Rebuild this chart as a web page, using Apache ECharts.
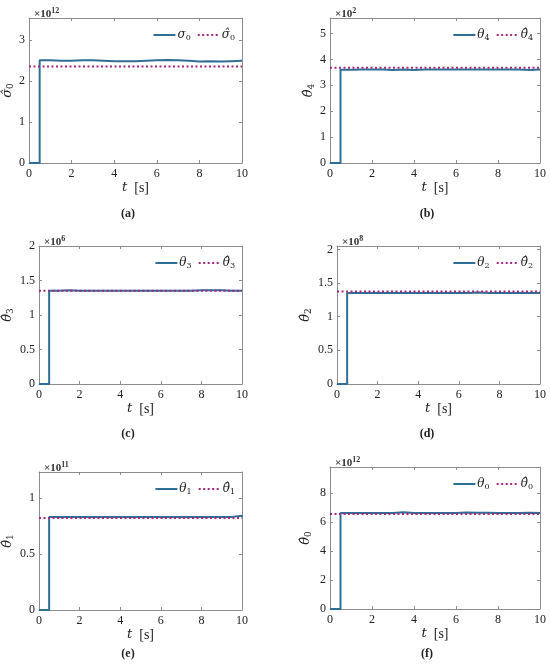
<!DOCTYPE html>
<html>
<head>
<meta charset="utf-8">
<script src="https://cdn.jsdelivr.net/npm/echarts@6/dist/echarts.min.js"></script>
<style>
  html, body { margin: 0; padding: 0; background: #fff; }
  #main { width: 550px; height: 665px; }
</style>
</head>
<body>
<div id="main"></div>
<script>
// time stamps of the piecewise-constant estimates (s)
var times = [0, 0.5, 1, 1.5, 2, 2.5, 3, 3.5, 4, 4.5, 5, 5.5, 6, 6.5, 7, 7.5, 8, 8.5, 9, 9.5, 10];
var refTimes = [0, 10];

// (a) sigma0, x1e12
var sigma0 = [0, 2.50, 2.49, 2.49, 2.50, 2.50, 2.49, 2.48, 2.48, 2.48, 2.49, 2.50, 2.51, 2.50, 2.49, 2.47, 2.48, 2.47, 2.48, 2.49, 2.48];
var sigma0Hat = [2.35, 2.35];
// (b) theta4, x1e2
var theta4 = [0, 3.60, 3.61, 3.61, 3.61, 3.59, 3.61, 3.59, 3.61, 3.61, 3.61, 3.61, 3.61, 3.61, 3.61, 3.61, 3.61, 3.61, 3.59, 3.61, 3.61];
var theta4Hat = [3.68, 3.68];
// (c) theta3, x1e6
var theta3 = [0, 1.35, 1.36, 1.35, 1.35, 1.35, 1.35, 1.35, 1.35, 1.35, 1.35, 1.35, 1.35, 1.35, 1.35, 1.36, 1.36, 1.36, 1.35, 1.35, 1.35];
var theta3Hat = [1.35, 1.35];
// (d) theta2, x1e8
var theta2 = [0, 1.35, 1.35, 1.35, 1.35, 1.35, 1.35, 1.35, 1.35, 1.35, 1.35, 1.35, 1.35, 1.36, 1.35, 1.35, 1.35, 1.35, 1.35, 1.35, 1.35];
var theta2Hat = [1.375, 1.375];
// (e) theta1, x1e11
var theta1 = [0, 0.83, 0.83, 0.83, 0.83, 0.83, 0.83, 0.83, 0.83, 0.83, 0.83, 0.83, 0.83, 0.83, 0.83, 0.83, 0.83, 0.83, 0.83, 0.84, 0.83];
var theta1Hat = [0.82, 0.82];
// (f) theta0, x1e12
var theta0 = [0, 6.62, 6.62, 6.62, 6.62, 6.62, 6.68, 6.62, 6.62, 6.62, 6.62, 6.62, 6.66, 6.64, 6.64, 6.62, 6.62, 6.62, 6.64, 6.62, 6.62];
var theta0Hat = [6.55, 6.55];

var blue = '#2f6e97';
var magenta = '#a8267f';
var axisGray = '#8c8c8c';
var serif = 'Liberation Serif';
var mathFont = 'DejaVu Serif';

function pairs(xs, ys) {
    var res = [];
    for (var i = 0; i < xs.length; i++) {
        res.push([xs[i], ys[i]]);
    }
    return res;
}

var panels = [
    {sym: 'σ', sub: '0', exp: '12', cap: '(a)', est: sigma0, ref: sigma0Hat, max: 3.53, interval: 1,
     box: [29, 18, 213, 145], ylab: 10, capY: 203},
    {sym: 'θ', sub: '4', exp: '2', cap: '(b)', est: theta4, ref: theta4Hat, max: 5.6, interval: 1,
     box: [330, 18, 210, 145], ylab: 313, capY: 203},
    {sym: 'θ', sub: '3', exp: '6', cap: '(c)', est: theta3, ref: theta3Hat, max: 2, interval: 0.5,
     box: [39, 246, 203, 138], ylab: 9, capY: 423},
    {sym: 'θ', sub: '2', exp: '8', cap: '(d)', est: theta2, ref: theta2Hat, max: 2.05, interval: 0.5,
     box: [337, 246, 203, 138], ylab: 307, capY: 423},
    {sym: 'θ', sub: '1', exp: '11', cap: '(e)', est: theta1, ref: theta1Hat, max: 1.23, interval: 0.5,
     box: [39, 472, 203, 138], ylab: 9, capY: 643},
    {sym: 'θ', sub: '0', exp: '12', cap: '(f)', est: theta0, ref: theta0Hat, max: 9.8, interval: 2,
     box: [330, 467, 210, 142], ylab: 307, capY: 643}
];

var mathRich = {
    m: {fontFamily: mathFont, fontStyle: 'italic', fontSize: 12, color: '#222'},
    s: {fontFamily: mathFont, fontSize: 8, color: '#222', padding: [6, 0, 0, 0]},
    a: {fontFamily: serif, fontSize: 11, color: '#333'},
    p: {fontFamily: serif, fontSize: 8, color: '#333', padding: [0, 0, 6, 0]},
    b: {fontFamily: serif, fontSize: 12, fontWeight: 'bold', color: '#222'}
};

function mathName(name) {
    var base = name.slice(0, -1), sub = name.slice(-1);
    return '{m|' + base + '}{s|' + sub + '}';
}

var grids = [], xAxes = [], yAxes = [], series = [], legends = [], titles = [];

panels.forEach(function (p, i) {
    var b = p.box;
    var trueName = p.sym + p.sub;
    var hatName = p.sym + '\u0302' + p.sub;
    grids.push({left: b[0], top: b[1], width: b[2], height: b[3], show: false});

    var tickStyle = {show: true, inside: true, length: 3, lineStyle: {color: axisGray, width: 1}};
    var lineStyle = {show: true, onZero: false, lineStyle: {color: axisGray, width: 1}};
    xAxes.push({
        type: 'value', gridIndex: i, min: 0, max: 10, interval: 2, position: 'bottom',
        axisLine: lineStyle,
        axisTick: tickStyle,
        splitLine: {show: false},
        axisLabel: {fontFamily: serif, fontSize: 12, color: '#222', margin: 5},
        name: '{m|t}{n|  [s]}', nameLocation: 'middle', nameGap: 17,
        nameTextStyle: {rich: {m: {fontFamily: mathFont, fontStyle: 'italic', fontSize: 13, color: '#222'},
                               n: {fontFamily: serif, fontSize: 14, color: '#222'}}}
    });
    xAxes.push({
        type: 'value', gridIndex: i, min: 0, max: 10, interval: 2, position: 'top',
        axisLine: lineStyle,
        axisTick: tickStyle, axisLabel: {show: false}, splitLine: {show: false}
    });
    yAxes.push({
        type: 'value', gridIndex: i, min: 0, max: p.max, interval: p.interval, position: 'left',
        axisLine: lineStyle,
        axisTick: tickStyle,
        splitLine: {show: false},
        axisLabel: {fontFamily: serif, fontSize: 12, color: '#222', margin: 4, showMaxLabel: (p.max % p.interval === 0)},
        name: mathName(hatName), nameLocation: 'middle', nameRotate: 90,
        nameGap: b[0] - p.ylab - 6,
        nameTextStyle: {rich: {m: {fontFamily: mathFont, fontStyle: 'italic', fontSize: 13, color: '#222'},
                               s: {fontFamily: mathFont, fontSize: 9, color: '#222', padding: [6, 0, 0, 0]}}}
    });
    yAxes.push({
        type: 'value', gridIndex: i, min: 0, max: p.max, interval: p.interval, position: 'right',
        axisLine: lineStyle,
        axisTick: tickStyle, axisLabel: {show: false}, splitLine: {show: false}
    });

    series.push({
        name: trueName, type: 'line', xAxisIndex: 2 * i, yAxisIndex: 2 * i,
        data: pairs(times, p.est), step: 'end', symbol: 'none',
        lineStyle: {color: blue, width: 2}, itemStyle: {color: blue}, z: 2
    });
    series.push({
        name: hatName, type: 'line', xAxisIndex: 2 * i, yAxisIndex: 2 * i,
        data: pairs(refTimes, p.ref), symbol: 'none',
        lineStyle: {color: magenta, width: 2, type: [2, 2.5]}, itemStyle: {color: magenta}, z: 3
    });

    legends.push({
        data: [trueName, hatName],
        right: 550 - (b[0] + b[2]) + 2, top: b[1] + 6,
        itemWidth: 22, itemHeight: 10, itemGap: 6,
        itemStyle: {opacity: 0},
        formatter: mathName,
        textStyle: {rich: mathRich, padding: [0, 0, 0, -3]}
    });

    titles.push({
        text: '{a|×10}{p|' + p.exp + '}', left: b[0], top: b[1] - 16,
        textStyle: {rich: mathRich}
    });
    titles.push({
        text: '{b|' + p.cap + '}', left: (i % 2 === 0 ? 123 : 422), top: p.capY,
        textAlign: 'center',
        textStyle: {rich: mathRich}
    });
});

var chart = echarts.init(document.getElementById('main'));
chart.setOption({
    backgroundColor: '#fff',
    animation: false,
    title: titles,
    legend: legends,
    grid: grids,
    xAxis: xAxes,
    yAxis: yAxes,
    series: series
});
</script>
</body>
</html>
